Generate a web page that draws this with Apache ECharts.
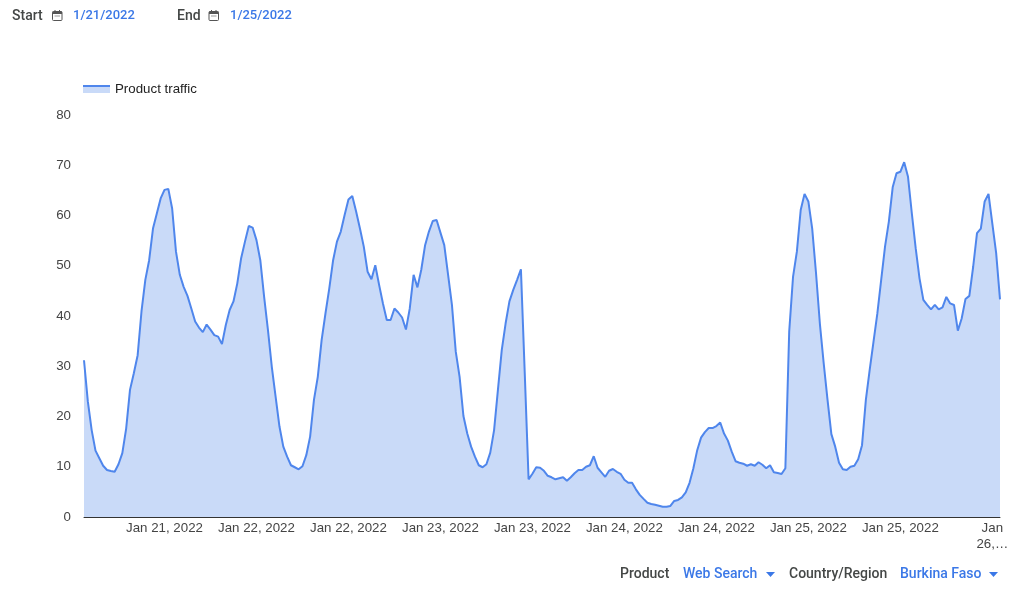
<!DOCTYPE html>
<html>
<head>
<meta charset="utf-8">
<style>html,body{margin:0;padding:0;background:#fff}#c{width:1024px;height:597px}</style>
<script src="https://cdn.jsdelivr.net/npm/echarts@6/dist/echarts.min.js"></script>
</head>
<body>
<div id="c"></div>
<script>
const seriesName = 'Product traffic';
const traffic1 = [31.2,23,17.3,13.2,11.7,10.2,9.35,9.15,9,10.5,12.7,17.6,25.3,28.6,32.2,40.9,47.2,51.1,57.4,60.4,63.4,65.1,65.3,61.4,52.8,48.2,45.8,44,41.5,38.9,37.7,36.8,38.3,37.3,36.2,35.9,34.4,38.2,41.2,42.9,46.5,51.5,54.8,57.9,57.6,55.1,51.1,43.8,37.2,29.9,23.9,18,14,12,10.3,9.9,9.5,10.1,12.3,16];
const traffic2 = [23.3,27.9,35.2,40.5,45.5,51.1,54.8,56.8,60.1,63.2,63.9,60.8,57.4,53.8,48.8,47.3,50.1,46.2,42.5,39.2,39.2,41.5,40.7,39.7,37.3,41.5,48.2,45.7,49.2,54.1,56.8,58.9,59.1,56.6,54.1,48.2,42.2,32.9,27.9,20.1,16.6,14,12,10.3,9.9,10.5,12.8,17.3,25.3,33.2,38.5,42.9,45.2,47.2,49.3,28.6,7.5,8.6,9.9,9.8];
const traffic3 = [9.2,8.2,7.9,7.5,7.7,7.9,7.2,7.9,8.7,9.35,9.35,10,10.3,12.1,9.8,8.9,8,9.2,9.55,9,8.6,7.4,6.8,6.8,5.5,4.4,3.6,2.85,2.6,2.45,2.25,2.05,2.05,2.2,3.2,3.4,3.9,4.9,6.8,9.7,13.3,15.8,16.9,17.7,17.7,18.1,18.8,16.6,15.2,13,11.1,10.8,10.6,10.2,10.5,10.2,10.9,10.4,9.7,10.3];
const traffic4 = [8.9,8.75,8.55,9.7,36.9,47.8,52.8,61.1,64.3,62.8,57.4,48.5,38.5,30.6,23.3,16.5,14,10.8,9.5,9.35,10,10.2,11.5,14.3,23.3,29.3,34.9,40.5,47.2,53.8,58.8,65.6,68.4,68.7,70.6,67.7,60.4,53.5,47.5,43.2,42.2,41.3,42.2,41.3,41.7,43.8,42.5,42.2,37.1,39.5,43.4,44,49.8,56.5,57.4,62.8,64.3,58.4,52.5,43.3];
const traffic = traffic1.concat(traffic2, traffic3, traffic4);
const tickLabels = ['Jan 21, 2022','Jan 22, 2022','Jan 22, 2022','Jan 23, 2022','Jan 23, 2022','Jan 24, 2022','Jan 24, 2022','Jan 25, 2022','Jan 25, 2022','Jan\n26,…'];
const firstTick = 21, tickStep = 24;
const categories = traffic.map((_, i) => {
  const k = (i - firstTick) / tickStep;
  return Number.isInteger(k) && tickLabels[k] ? tickLabels[k] : String(i);
});
const yMax = 80, yStep = 10;

const GREY = '#444746', BLUE = '#3b78e7', UI = '500 14px Roboto, Arial, sans-serif', DATE = '500 13px Roboto, Arial, sans-serif';
const txt = (x, y, t, c, f) => ({type:'text', x, y, style:{text:t, fill:c, font:f || UI, textVerticalAlign:'middle'}});
const cal = x => ({type:'group', x, y:10, children:[
  {type:'rect', shape:{x:0.5,y:1.5,width:9.5,height:9,r:1}, style:{fill:'none',stroke:'#555',lineWidth:1}},
  {type:'rect', shape:{x:0.5,y:1.5,width:9.5,height:2.5}, style:{fill:'#555'}},
  {type:'rect', shape:{x:2.5,y:0,width:1,height:2}, style:{fill:'#555'}},
  {type:'rect', shape:{x:7,y:0,width:1,height:2}, style:{fill:'#555'}},
  {type:'rect', shape:{x:2.5,y:5.5,width:5.5,height:1}, style:{fill:'#999'}}
]});
const tri = x => ({type:'polygon', shape:{points:[[x,572],[x+9,572],[x+4.5,577]]}, style:{fill:BLUE}});

const chart = echarts.init(document.getElementById('c'), null, {renderer:'canvas'});
chart.setOption({
  animation:false,
  backgroundColor:'#fff',
  grid:{left:84, right:24, top:115, bottom:80, containLabel:false},
  legend:{
    show:true, left:78, top:77.5, itemWidth:27, itemHeight:8, itemGap:5, icon:'rect',
    data:[seriesName],
    textStyle:{fontFamily:'Liberation Sans, Arial', fontSize:13.3, color:'#222'},
    itemStyle:{color:'#c9daf8', borderWidth:0}
  },
  xAxis:{
    type:'category', data:categories, boundaryGap:false,
    axisLine:{show:true, lineStyle:{color:'#333', width:1}},
    axisTick:{show:false},
    axisLabel:{
      color:'#444', fontFamily:'Liberation Sans, Arial', fontSize:13.3, margin:3, lineHeight:16,
      hideOverlap:false,
      interval:(i) => (i - firstTick) % tickStep === 0 && i >= firstTick
    },
    splitLine:{show:false}
  },
  yAxis:{
    type:'value', min:0, max:yMax, interval:yStep,
    axisLine:{show:false}, axisTick:{show:false}, splitLine:{show:false},
    axisLabel:{color:'#444', fontFamily:'Liberation Sans, Arial', fontSize:13.3, margin:13, padding:[2,0,0,0]}
  },
  series:[{
    name:seriesName, type:'line', data:traffic, showSymbol:false, symbol:'none', smooth:false,
    lineStyle:{color:'#4f86ec', width:2},
    itemStyle:{color:'#4f86ec'},
    areaStyle:{color:'#c9daf8', opacity:1}
  }],
  graphic:[
    txt(12,16,'Start',GREY), cal(52), txt(73,16,'1/21/2022',BLUE,DATE),
    txt(177,16,'End',GREY), cal(208.5), txt(230,16,'1/25/2022',BLUE,DATE),
    txt(620,574,'Product',GREY), txt(683,574,'Web Search',BLUE), tri(766),
    txt(789,574,'Country/Region',GREY), txt(900,574,'Burkina Faso',BLUE), tri(989),
    {type:'rect', z:100, shape:{x:83,y:85,width:27,height:2}, style:{fill:'#4f86ec'}}
  ]
});
</script>
</body>
</html>
